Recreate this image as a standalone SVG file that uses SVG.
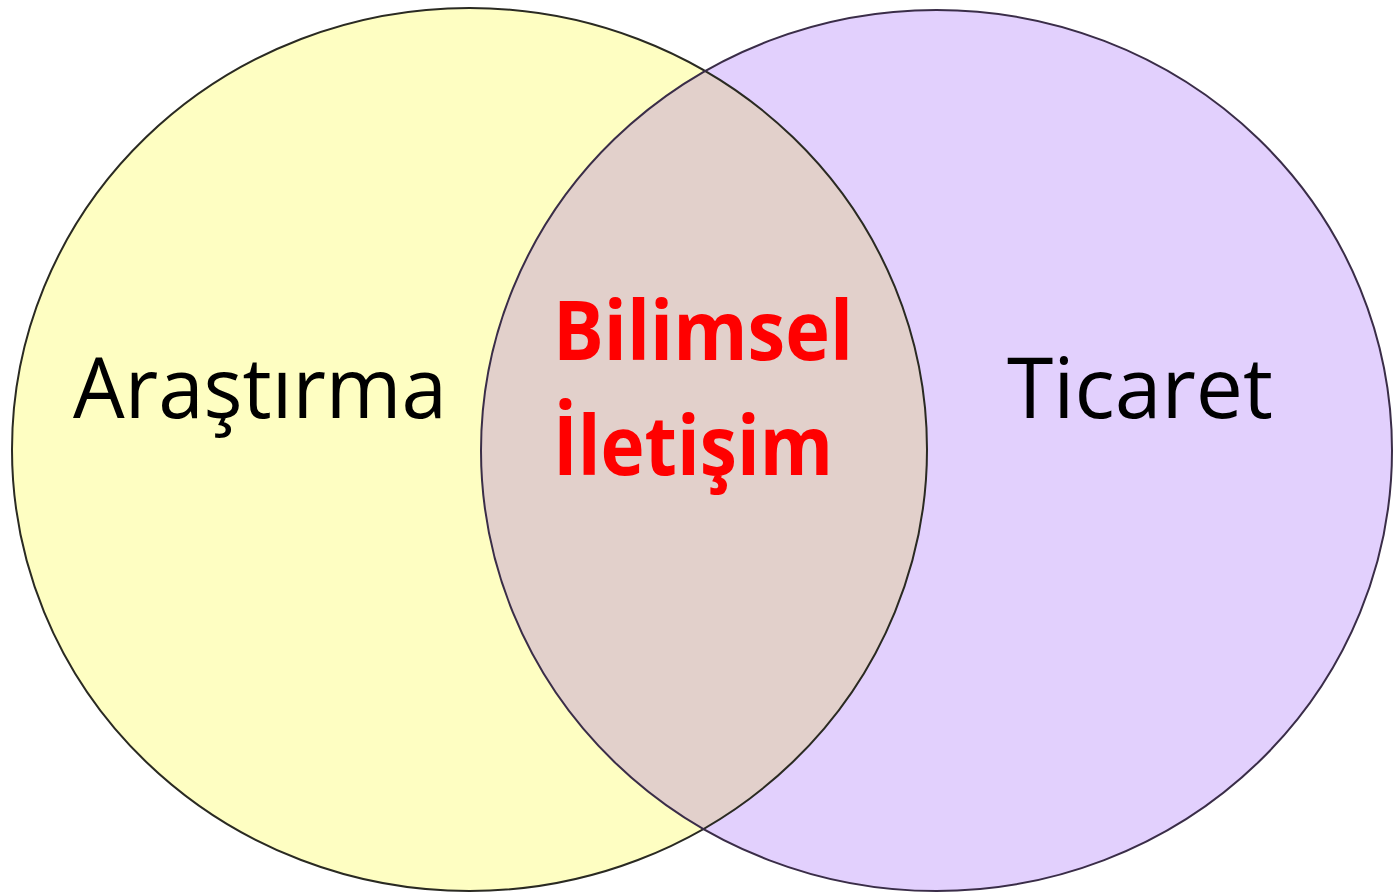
<svg xmlns="http://www.w3.org/2000/svg" width="1395" height="895" viewBox="0 0 1395 895">
  <style>
    .lbl { font-family: "Open Sans", "Noto Sans", "Liberation Sans", sans-serif; font-size: 84px; fill: #000; }
    .mid { font-family: "Open Sans", "Noto Sans", "Liberation Sans", sans-serif; font-size: 82px; font-weight: bold; fill: #ff0000; }
    .edge { fill: none; stroke-width: 2; }
  </style>
  <defs>
    <clipPath id="clipLeft">
      <ellipse cx="469.5" cy="449.5" rx="457.5" ry="441.5"/>
    </clipPath>
  </defs>
  <rect width="1395" height="895" fill="#ffffff"/>
  <g id="research">
    <ellipse cx="469.5" cy="449.5" rx="457.5" ry="441.5" fill="#fefec2"/>
  </g>
  <g id="commerce">
    <ellipse cx="936.5" cy="450.5" rx="455.5" ry="440.5" fill="#e2d0fd"/>
  </g>
  <g id="scientific-communication">
    <ellipse cx="936.5" cy="450.5" rx="455.5" ry="440.5" fill="#e2d0cb" clip-path="url(#clipLeft)"/>
  </g>
  <g id="outlines">
    <ellipse class="edge" cx="469.5" cy="449.5" rx="457.5" ry="441.5" stroke="#2a2a22"/>
    <ellipse class="edge" cx="936.5" cy="450.5" rx="455.5" ry="440.5" stroke="#3a2d48"/>
  </g>
  <g id="labels">
    <text class="lbl" x="73" y="418" textLength="374" lengthAdjust="spacingAndGlyphs">Araştırma</text>
    <text class="lbl" x="1007" y="418" textLength="266" lengthAdjust="spacingAndGlyphs">Ticaret</text>
    <text class="mid" x="553" y="360" textLength="300" lengthAdjust="spacingAndGlyphs">Bilimsel</text>
    <text class="mid" x="553" y="475" textLength="280" lengthAdjust="spacingAndGlyphs">İletişim</text>
  </g>
</svg>
